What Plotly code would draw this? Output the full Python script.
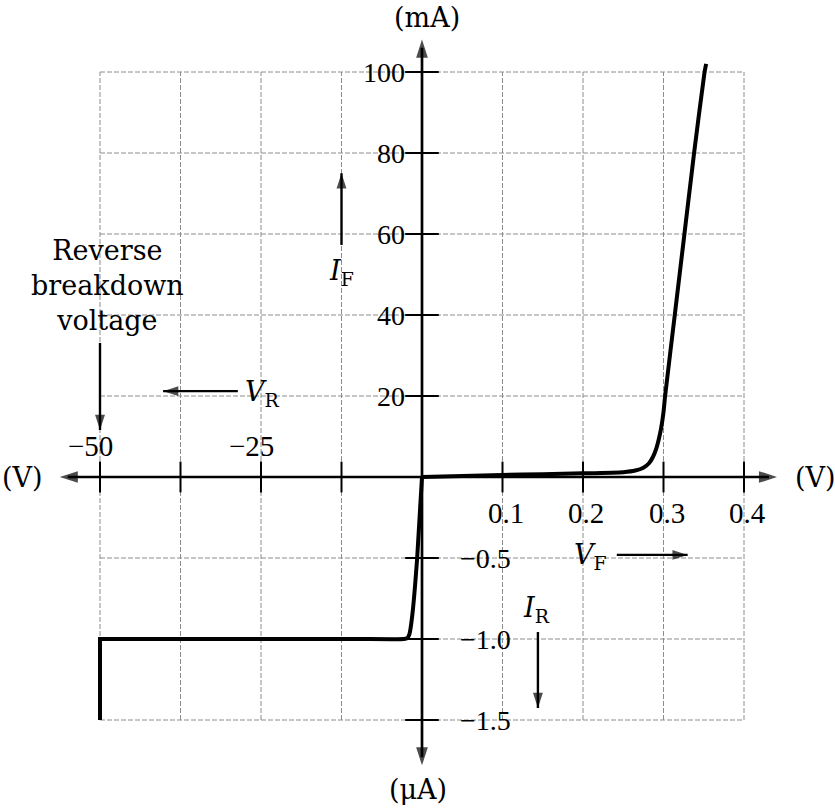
import plotly.graph_objects as go

# ---------------- data ----------------
# Forward characteristic: V_F in volts, I_F in mA
forward_v = [0.0, 0.05, 0.10, 0.15, 0.20, 0.25, 0.265, 0.275, 0.282, 0.287, 0.291, 0.294,
             0.297, 0.300, 0.302, 0.314, 0.326, 0.338, 0.351, 0.353]
forward_i_ma = [0.0, 0.25, 0.5, 0.7, 0.9, 1.2, 1.6, 2.3, 3.4, 5.0, 7.0, 9.2,
                12.0, 16.0, 20.0, 40.0, 60.0, 80.0, 100.0, 102.0]

# Reverse characteristic: V_R in volts, I_R in microamps
reverse_v = [0.0, -0.75, -1.5, -1.95, -2.3, -2.8, -10.0, -25.0, -37.5, -50.0, -50.0]
reverse_i_ua = [0.0, -0.5, -0.85, -0.97, -0.995, -1.0, -1.0, -1.0, -1.0, -1.0, -1.5]

# Grid / tick values
x_pos_ticks = [0.1, 0.2, 0.3, 0.4]
x_pos_labels = ["0.1", "0.2", "0.3", "0.4"]
x_neg_ticks = [-12.5, -25.0, -37.5, -50.0]
x_neg_labels = ["", "\u221225", "", "\u221250"]
y_pos_ticks = [20, 40, 60, 80, 100]
y_pos_labels = ["20", "40", "60", "80", "100"]
y_neg_ticks = [-0.5, -1.0, -1.5]
y_neg_labels = ["\u22120.5", "\u22121.0", "\u22121.5"]

# one grid square per unit
V_POS_UNIT, V_NEG_UNIT = 0.1, 12.5     # V per square
I_POS_UNIT, I_NEG_UNIT = 20.0, 0.5     # mA / uA per square


def gx(v):
    return v / V_POS_UNIT if v >= 0 else v / V_NEG_UNIT


def gy(i):
    return i / I_POS_UNIT if i >= 0 else i / I_NEG_UNIT


NUM_FONT = dict(family="Liberation Serif, Times New Roman, serif", size=28, color="black")
XNUM_FONT = dict(family="Liberation Serif, Times New Roman, serif", size=29, color="black")
TXT_FONT = dict(family="DejaVu Serif, serif", size=27, color="black")

fig = go.Figure()

# ---------------- grid (dashed, bounded box) ----------------
grid_style = dict(color="#8c8c8c", width=1, dash="5px,2px")
x_lo, x_hi = gx(min(x_neg_ticks)), gx(max(x_pos_ticks))
y_lo, y_hi = gy(min(y_neg_ticks)), gy(max(y_pos_ticks))
for v in x_neg_ticks + x_pos_ticks:
    fig.add_shape(type="line", x0=gx(v), x1=gx(v), y0=y_lo, y1=y_hi, line=grid_style, layer="below")
for i in y_neg_ticks + y_pos_ticks:
    fig.add_shape(type="line", x0=x_lo, x1=x_hi, y0=gy(i), y1=gy(i), line=grid_style, layer="below")

# ---------------- axes with arrow heads ----------------
ax_left, ax_right = -4.5, 4.41
ax_top, ax_bottom = 5.40, -3.56
axis_line = dict(color="black", width=2.7)
fig.add_shape(type="line", x0=ax_left + 0.1, x1=ax_right - 0.1, y0=0, y1=0, line=axis_line)
fig.add_shape(type="line", x0=0, x1=0, y0=ax_bottom + 0.1, y1=ax_top - 0.1, line=axis_line)

# tick marks
fig.add_trace(go.Scatter(
    x=[gx(v) for v in x_neg_ticks + x_pos_ticks], y=[0] * 8, mode="markers",
    marker=dict(symbol="line-ns", size=22, line=dict(color="black", width=2)),
    hoverinfo="skip", showlegend=False))
fig.add_trace(go.Scatter(
    x=[0] * 8, y=[gy(i) for i in y_neg_ticks + y_pos_ticks], mode="markers",
    marker=dict(symbol="line-ew", size=24, line=dict(color="black", width=2)),
    hoverinfo="skip", showlegend=False))

# ---------------- characteristic curve ----------------
curve_line = dict(color="black", width=4)
n_flat = 4  # last reverse points (breakdown corner) drawn straight
rev_x = [gx(v) for v in reverse_v]
rev_y = [gy(i) for i in reverse_i_ua]
fig.add_trace(go.Scatter(x=rev_x[-n_flat:], y=rev_y[-n_flat:], mode="lines",
                         line=curve_line, hoverinfo="skip", showlegend=False))
fig.add_trace(go.Scatter(x=rev_x[:-n_flat + 1], y=rev_y[:-n_flat + 1], mode="lines",
                         line=dict(curve_line, shape="spline", smoothing=0.5),
                         hoverinfo="skip", showlegend=False))
fig.add_trace(go.Scatter(x=[gx(v) for v in forward_v], y=[gy(i) for i in forward_i_ma],
                         mode="lines", line=dict(curve_line, shape="spline", smoothing=0.5),
                         hoverinfo="skip", showlegend=False))

# ---------------- small labelled arrows ----------------
arrows = [  # (x0, y0, x1(tip), y1(tip), angle)
    (gx(-12.5), gy(57.3), gx(-12.5), gy(75.0), 0),      # I_F up
    (gx(-28.6), gy(21.2), gx(-40.2), gy(21.2), 270),    # V_R left
    (gx(0.242), gy(-0.481), gx(0.330), gy(-0.481), 90), # V_F right
    (gx(0.144), gy(-0.957), gx(0.144), gy(-1.426), 180),# I_R down
    (gx(-50.0), gy(33.1), gx(-50.0), gy(11.6), 180),    # breakdown down
]
for x0, y0, x1, y1, _ in arrows:
    fig.add_shape(type="line", x0=x0, y0=y0, x1=x1, y1=y1, line=dict(color="black", width=2.4))

tips_x = [a[2] for a in arrows] + [ax_right, ax_left, 0, 0]
tips_y = [a[3] for a in arrows] + [0, 0, ax_top, ax_bottom]
tips_a = [a[4] for a in arrows] + [90, 270, 0, 180]
tips_s = [16] * len(arrows) + [19, 19, 19, 19]
fig.add_trace(go.Scatter(x=tips_x, y=tips_y, mode="markers",
                         marker=dict(symbol="arrow", size=tips_s, angle=tips_a, color="black",
                                     line=dict(width=0)),
                         hoverinfo="skip", showlegend=False))

# ---------------- tick labels ----------------
ann = []
for v, t in zip(x_pos_ticks, x_pos_labels):
    ann.append(dict(x=gx(v), y=0, text=t, xshift=3, yshift=-36, font=XNUM_FONT))
for v, t in zip(x_neg_ticks, x_neg_labels):
    if t:
        ann.append(dict(x=gx(v), y=0, text=t, xshift=-10, yshift=31, font=XNUM_FONT))
for i, t in zip(y_pos_ticks, y_pos_labels):
    ann.append(dict(x=0, y=gy(i), text=t, xanchor="right", xshift=-15, font=NUM_FONT))
for i, t in zip(y_neg_ticks, y_neg_labels):
    ann.append(dict(x=0, y=gy(i), text=t, xanchor="left", xshift=36, font=NUM_FONT))

# unit labels
ann += [
    dict(x=0, y=ax_top, text="(mA)", yshift=22, xshift=5, font=TXT_FONT),
    dict(x=0, y=ax_bottom, text="(\u03bcA)", yshift=-24, xshift=-4, font=TXT_FONT),
    dict(x=ax_left, y=0, text="(V)", xanchor="right", xshift=-15, font=TXT_FONT),
    dict(x=ax_right, y=0, text="(V)", xanchor="left", xshift=16, font=TXT_FONT),
]
# quantity labels
ann += [
    dict(x=gx(-12.5), y=gy(50.6), text="<i>I</i><sub>F</sub>", font=TXT_FONT),
    dict(x=gx(-27.8), y=gy(20.7), text="<i>V</i><sub>R</sub>", xanchor="left", font=TXT_FONT),
    dict(x=gx(0.186), y=gy(-0.49), text="<i>V</i><sub>F</sub>", xanchor="left", font=TXT_FONT),
    dict(x=gx(0.142), y=gy(-0.82), text="<i>I</i><sub>R</sub>", font=TXT_FONT),
    dict(x=gx(-48.9), y=gy(47.4), text="Reverse<br>breakdown<br>voltage", font=TXT_FONT,
         align="center"),
]
for a in ann:
    a.setdefault("showarrow", False)
    a.setdefault("xref", "x")
    a.setdefault("yref", "y")
fig.update_layout(annotations=ann)

# ---------------- layout ----------------
W, H = 835, 809
X0_PX, SX = 422, 80.5
Y0_PX, SY = 477, 81.0
fig.update_layout(
    width=W, height=H, margin=dict(l=0, r=0, t=0, b=0),
    paper_bgcolor="white", plot_bgcolor="white", showlegend=False,
    xaxis=dict(range=[-X0_PX / SX, (W - X0_PX) / SX], visible=False, fixedrange=True),
    yaxis=dict(range=[-(H - Y0_PX) / SY, Y0_PX / SY], visible=False, fixedrange=True),
)

# remove the default page margin so the figure fills the window exactly
fig.write_html("out.html",
               config={"displayModeBar": False, "staticPlot": True},
               post_script="document.body.style.margin='0px';document.body.style.overflow='hidden';")
